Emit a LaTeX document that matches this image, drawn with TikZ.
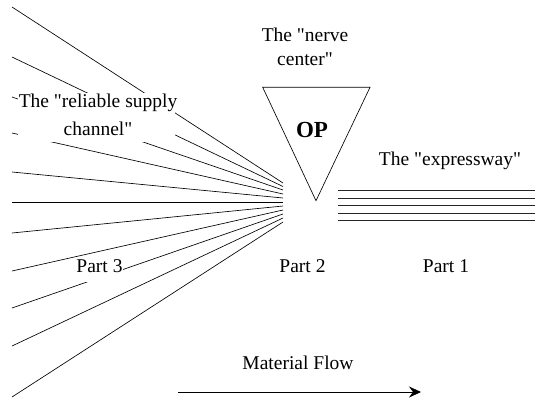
\documentclass[tikz,border=0pt]{standalone}
\usepackage{fontspec}
\setmainfont{Liberation Serif}[Ligatures=TeXOff]
\usetikzlibrary{arrows.meta}
% straight double quote, as typed
\newcommand{\sq}{\char34\relax}
\begin{document}
\begin{tikzpicture}[x=1pt, y=-1pt,
  thinline/.style={line width=0.65pt, black},
  label/.style={inner sep=0pt, font=\fontsize{19.5}{23.5}\selectfont, align=center},
  mask/.style={fill=white, draw=none}]
\useasboundingbox (0,0) rectangle (537,399);

% Part 3: the fan of supply lines converging on the operation point
\foreach \i/\ys/\ye in {1/7/183, 2/57/186.5, 3/97/190, 4/133/194, 5/172/198, 6/202/202,
                        7/233/206, 8/271/210, 9/308/214, 10/346/218, 11/397/222} {
  \coordinate (s\i) at (12,\ys);
  \coordinate (e\i) at (283,\ye);
  \draw[thinline] (s\i) -- (e\i);
}

% white panels keep the fan lines clear of the labels
\fill[mask] (18,93) rectangle (175,142);
\fill[mask] (78,259) rectangle (123,282);

\node[label, anchor=north] (supply) at (98,94) {The \sq reliable supply\\[4pt]channel\sq};
\node[label, anchor=base] (part3) at (99.5,272) {Part 3};

% Part 2: the operation point
\coordinate (tl) at (262.7,87.3);
\coordinate (tr) at (370,87.3);
\coordinate (tb) at (316,200.7);
\draw[thinline] (tl) -- (tr) -- (tb) -- cycle;
\node[inner sep=0pt, font=\fontsize{23}{27}\selectfont\bfseries] (op) at (312,130) {OP};
\node[label, anchor=north] (nerve) at (305,28) {The \sq nerve\\center\sq};
\node[label, anchor=base] (part2) at (302.5,272) {Part 2};

% Part 1: the expressway
\foreach \j/\y in {1/190.5, 2/198, 3/205.5, 4/213, 5/220.5} {
  \coordinate (x\j) at (338,\y);
  \coordinate (y\j) at (535,\y);
  \draw[line width=0.6pt, black!85] (x\j) -- (y\j);
}
\node[label, anchor=base] (express) at (450,165) {The \sq expressway\sq};
\node[label, anchor=base] (part1) at (446,272) {Part 1};

% direction of material flow
\node[label, anchor=base] (flow) at (298,369) {Material Flow};
\coordinate (fa) at (178,392);
\coordinate (fb) at (421,392);
\draw[thinline, -{Stealth[length=12pt, width=11pt, inset=4pt]}] (fa) -- (fb);
\end{tikzpicture}
\end{document}
